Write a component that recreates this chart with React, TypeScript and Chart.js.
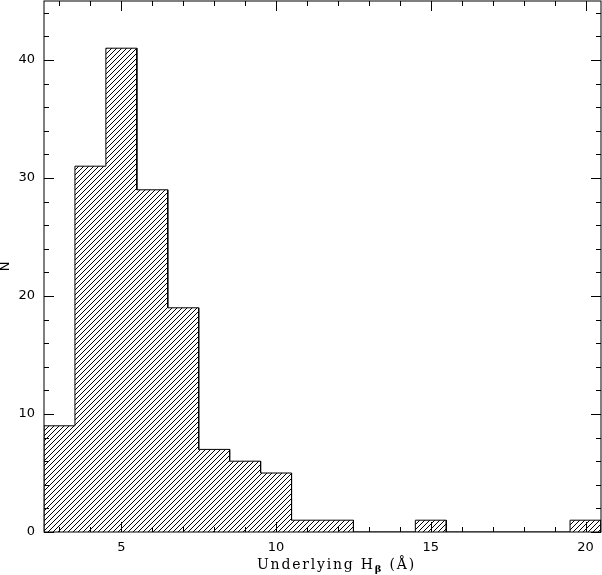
import React, { useEffect, useRef } from "react";
import { Chart, registerables } from "chart.js";

Chart.register(...registerables);

// Histogram data: bin centres (Å) and counts
const binCenters = [3, 4, 5, 6, 7, 8, 9, 10, 11, 12, 13, 14, 15, 16, 17, 18, 19, 20];
const counts = [9, 31, 41, 29, 19, 7, 6, 5, 1, 1, 0, 0, 1, 0, 0, 0, 0, 1];
const binWidth = 1;
const xMin = 2.5;
const xMax = 20.5;
const yMin = 0;
const yMax = 45;
const xMajorTicks = [5, 10, 15, 20];
const yMajorTicks = [0, 10, 20, 30, 40];
const xMinorStep = 1;
const yMinorStep = 2;
const xLabelText = "Underlying H";
const xLabelSub = "β";
const xLabelTail = " (Å)";
const yLabelText = "N";

function buildOutline() {
  const pts: { x: number; y: number }[] = [];
  const first = binCenters[0] - binWidth / 2;
  pts.push({ x: first, y: 0 });
  for (let i = 0; i < binCenters.length; i++) {
    const lo = binCenters[i] - binWidth / 2;
    const hi = binCenters[i] + binWidth / 2;
    pts.push({ x: lo, y: counts[i] });
    pts.push({ x: hi, y: counts[i] });
  }
  const last = binCenters[binCenters.length - 1] + binWidth / 2;
  pts.push({ x: last, y: 0 });
  return pts;
}

function makeHatch(): CanvasPattern | string {
  const c = document.createElement("canvas");
  const s = 5;
  c.width = s;
  c.height = s;
  const g = c.getContext("2d");
  if (!g) return "#000";
  g.fillStyle = "#000";
  for (let i = 0; i < s; i++) {
    g.fillRect(i, s - 1 - i, 1, 1);
  }
  const p = g.createPattern(c, "repeat");
  return p || "#000";
}

const frameAndTicks = {
  id: "frameAndTicks",
  afterDatasetsDraw(chart: any) {
    const ctx = chart.ctx;
    const { left, right, top, bottom } = chart.chartArea;
    const xs = chart.scales.x;
    const ys = chart.scales.y;
    ctx.save();
    ctx.strokeStyle = "#000";
    ctx.lineWidth = 1;
    const L = Math.round(left), R = Math.round(right), T = Math.round(top), B = Math.round(bottom);
    ctx.strokeRect(L, T, R - L, B - T);
    ctx.beginPath();
    // x ticks (minor every unit, major at labelled values)
    for (let v = Math.ceil(xMin); v <= Math.floor(xMax); v += xMinorStep) {
      const px = Math.round(xs.getPixelForValue(v)) + 0.5;
      const len = xMajorTicks.includes(v) ? 10 : 5;
      ctx.moveTo(px, B);
      ctx.lineTo(px, B - len);
      ctx.moveTo(px, T);
      ctx.lineTo(px, T + len);
    }
    // y ticks (minor every 2)
    for (let v = yMin; v <= yMax; v += yMinorStep) {
      const py = Math.round(ys.getPixelForValue(v)) + 0.5;
      const len = yMajorTicks.includes(v) ? 10 : 5;
      ctx.moveTo(L, py);
      ctx.lineTo(L + len, py);
      ctx.moveTo(R, py);
      ctx.lineTo(R - len, py);
    }
    ctx.stroke();

    // axis titles
    ctx.fillStyle = "#000";
    const font = "14px 'DejaVu Serif'";
    const subFont = "bold 10px 'DejaVu Serif'";
    (ctx as any).letterSpacing = "1.8px";
    ctx.font = font;
    const w1 = ctx.measureText(xLabelText).width;
    ctx.font = subFont;
    const w2 = ctx.measureText(xLabelSub).width;
    ctx.font = font;
    const w3 = ctx.measureText(xLabelTail).width;
    const total = w1 + w2 + w3;
    const cx = (left + right) / 2 + 14;
    const baseY = 569;
    const x0 = cx - total / 2;
    ctx.textBaseline = "alphabetic";
    ctx.textAlign = "left";
    ctx.fillText(xLabelText, x0, baseY);
    ctx.font = subFont;
    ctx.fillText(xLabelSub, x0 + w1, baseY + 3);
    ctx.font = font;
    ctx.fillText(xLabelTail, x0 + w1 + w2, baseY);
    (ctx as any).letterSpacing = "0px";

    ctx.translate(6, (top + bottom) / 2);
    ctx.rotate(-Math.PI / 2);
    ctx.textAlign = "center";
    ctx.textBaseline = "middle";
    ctx.font = "13px 'DejaVu Sans'";
    ctx.fillText(yLabelText, 0, 0);
    ctx.restore();
  },
};

export default function App() {
  const ref = useRef<HTMLCanvasElement | null>(null);
  useEffect(() => {
    document.body.style.margin = "0";
    if (!ref.current) return;
    const hatch = makeHatch();
    const tickFont = { family: "'DejaVu Sans'", size: 13 };
    const chart = new Chart(ref.current, {
      type: "line",
      data: {
        datasets: [
          {
            data: buildOutline(),
            borderColor: "#000",
            borderWidth: 1,
            backgroundColor: hatch as any,
            fill: "origin",
            pointRadius: 0,
            tension: 0,
          },
        ],
      },
      options: {
        responsive: false,
        animation: false,
        devicePixelRatio: 1,
        layout: { padding: { top: 1, right: 1, left: 0, bottom: 0 } },
        plugins: { legend: { display: false }, tooltip: { enabled: false }, title: { display: false } },
        scales: {
          x: {
            type: "linear",
            min: xMin,
            max: xMax,
            grid: { display: false, drawTicks: false },
            border: { display: false },
            ticks: {
              autoSkip: false,
              maxRotation: 0,
              padding: 8,
              color: "#000",
              font: tickFont,
            },
            afterBuildTicks: (s: any) => {
              s.ticks = xMajorTicks.map((v) => ({ value: v }));
            },
            afterFit: (s: any) => {
              s.height = 43;
              s.paddingRight = 0;
              s.paddingLeft = 0;
            },
          },
          y: {
            type: "linear",
            min: yMin,
            max: yMax,
            grid: { display: false, drawTicks: false },
            border: { display: false },
            ticks: {
              autoSkip: false,
              padding: 9,
              color: "#000",
              font: tickFont,
            },
            afterBuildTicks: (s: any) => {
              s.ticks = yMajorTicks.map((v) => ({ value: v }));
            },
            afterFit: (s: any) => {
              s.width = 44;
              s.paddingTop = 0;
              s.paddingBottom = 0;
            },
          },
        },
      },
      plugins: [frameAndTicks],
    });
    return () => chart.destroy();
  }, []);
  return (
    <div style={{ position: "absolute", left: 0, top: 0, width: 602, height: 575, background: "#fff" }}>
      <canvas ref={ref} width={602} height={575} />
    </div>
  );
}
